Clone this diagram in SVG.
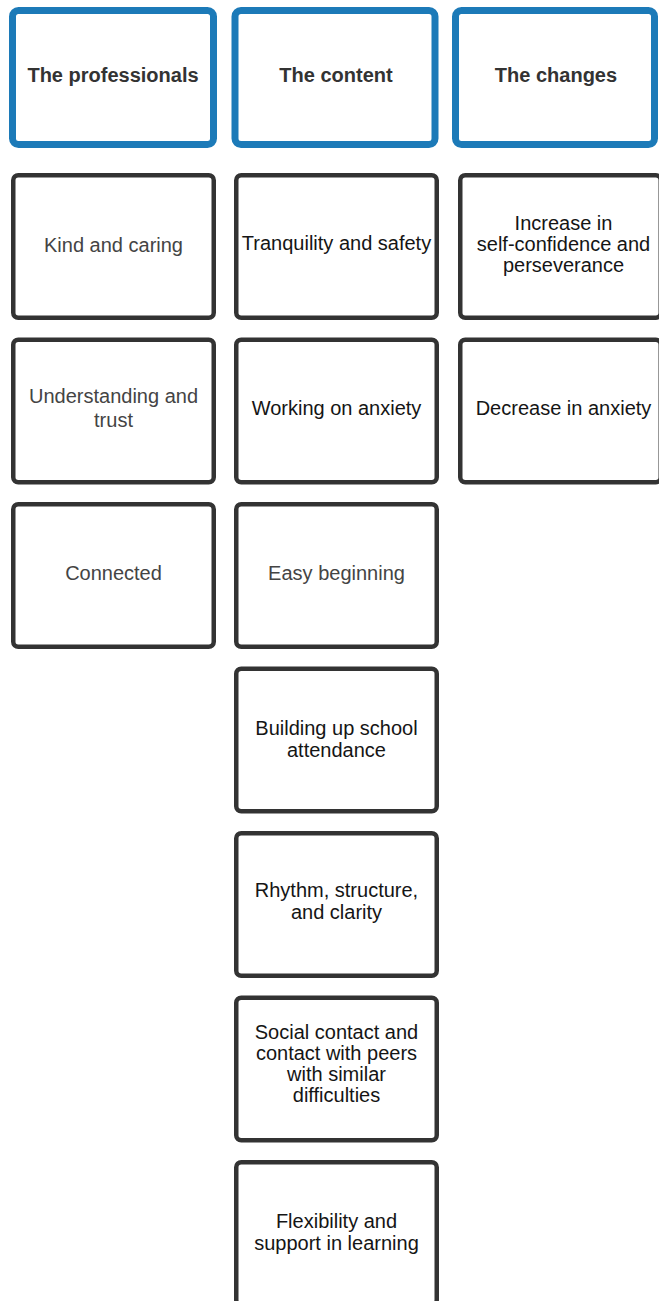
<svg xmlns="http://www.w3.org/2000/svg" width="659" height="1301" viewBox="0 0 659 1301">
  <style>
    .head rect { fill: #ffffff; stroke: #1c7ab8; stroke-width: 7; }
    .box rect { fill: #ffffff; stroke: #333333; stroke-width: 4.5; }
    text { font-family: "Liberation Sans", Arial, sans-serif; font-size: 20px; text-anchor: middle; }
    .head text { font-weight: bold; fill: #333333; }
    .dark text { fill: #151515; }
    .grey text { fill: #444444; }
  </style>
  <rect width="659" height="1301" fill="#ffffff"/>

  <!-- column headers -->
  <g id="head-professionals" class="head">
    <rect x="12.5" y="10.5" width="201" height="134" rx="6"/>
    <text x="113" y="82">The professionals</text>
  </g>
  <g id="head-content" class="head">
    <rect x="235" y="10.5" width="200" height="134" rx="6"/>
    <text x="336" y="82">The content</text>
  </g>
  <g id="head-changes" class="head">
    <rect x="455.5" y="10.5" width="199" height="134" rx="6"/>
    <text x="556" y="82">The changes</text>
  </g>

  <!-- professionals column -->
  <g id="kind-caring" class="box grey">
    <rect x="13.25" y="175.25" width="200.5" height="142.5" rx="5"/>
    <text x="113.5" y="252">Kind and caring</text>
  </g>
  <g id="understanding-trust" class="box grey">
    <rect x="13.25" y="339.75" width="200.5" height="142.5" rx="5"/>
    <text x="113.5" y="403">Understanding and</text>
    <text x="113.5" y="427">trust</text>
  </g>
  <g id="connected" class="box grey">
    <rect x="13.25" y="504.25" width="200.5" height="142.5" rx="5"/>
    <text x="113.5" y="580">Connected</text>
  </g>

  <!-- content column -->
  <g id="tranquility-safety" class="box dark">
    <rect x="236.25" y="175.25" width="200.5" height="142.5" rx="5"/>
    <text x="336.5" y="250">Tranquility and safety</text>
  </g>
  <g id="working-anxiety" class="box dark">
    <rect x="236.25" y="339.75" width="200.5" height="142.5" rx="5"/>
    <text x="336.5" y="415">Working on anxiety</text>
  </g>
  <g id="easy-beginning" class="box grey">
    <rect x="236.25" y="504.25" width="200.5" height="142.5" rx="5"/>
    <text x="336.5" y="580">Easy beginning</text>
  </g>
  <g id="school-attendance" class="box dark">
    <rect x="236.25" y="668.75" width="200.5" height="142.5" rx="5"/>
    <text x="336.5" y="735">Building up school</text>
    <text x="336.5" y="757">attendance</text>
  </g>
  <g id="rhythm-structure" class="box dark">
    <rect x="236.25" y="833.25" width="200.5" height="142.5" rx="5"/>
    <text x="336.5" y="897">Rhythm, structure,</text>
    <text x="336.5" y="919">and clarity</text>
  </g>
  <g id="social-contact" class="box dark">
    <rect x="236.25" y="997.75" width="200.5" height="142.5" rx="5"/>
    <text x="336.5" y="1039">Social contact and</text>
    <text x="336.5" y="1060">contact with peers</text>
    <text x="336.5" y="1081">with similar</text>
    <text x="336.5" y="1102">difficulties</text>
  </g>
  <g id="flexibility-support" class="box dark">
    <rect x="236.25" y="1162.25" width="200.5" height="142.5" rx="5"/>
    <text x="336.5" y="1228">Flexibility and</text>
    <text x="336.5" y="1250">support in learning</text>
  </g>

  <!-- changes column -->
  <g id="self-confidence" class="box dark">
    <rect x="460.25" y="175.25" width="200.5" height="142.5" rx="5"/>
    <text x="563.5" y="230">Increase in</text>
    <text x="563.5" y="251">self-confidence and</text>
    <text x="563.5" y="272">perseverance</text>
  </g>
  <g id="decrease-anxiety" class="box dark">
    <rect x="460.25" y="339.75" width="200.5" height="142.5" rx="5"/>
    <text x="563.5" y="415">Decrease in anxiety</text>
  </g>

  <!-- no connectors in this layout -->
  <g id="connectors"/>
</svg>
